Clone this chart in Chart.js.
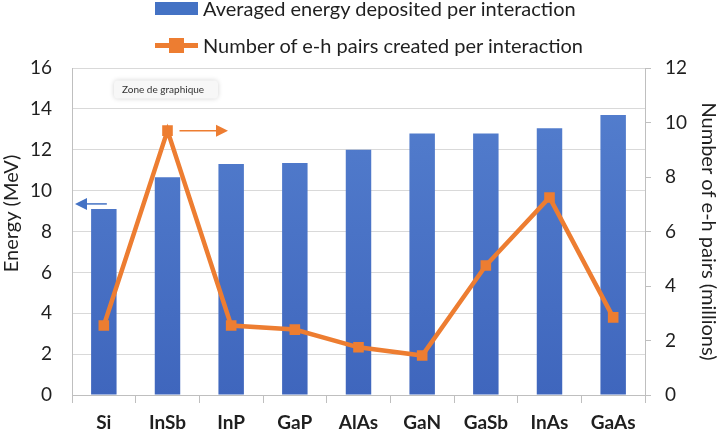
<!DOCTYPE html>
<html>
<head>
<meta charset="utf-8">
<script src="https://cdn.jsdelivr.net/npm/chart.js@4"></script>
<style>
  body { margin: 0; background: #fff; }
  #wrap { position: relative; width: 720px; height: 432px; }
  #legend { position: absolute; left: 0; top: 0; width: 720px; font-family: Lato, sans-serif; font-size: 20px; color: #1f1f1f; }
  .row { position: absolute; left: 155px; height: 24px; display: flex; align-items: center; white-space: nowrap; }
  .box { width: 43px; height: 13px; background: #4472C4; margin-right: 5px; }
  .ln { position: relative; width: 43px; height: 5px; background: #ED7D31; margin-right: 5px; }
  .ln span { position: absolute; left: 14px; top: -5px; width: 15px; height: 15px; background: #ED7D31; }
</style>
</head>
<body>
<div id="wrap">
  <canvas id="mycanvas" width="720" height="432"></canvas>
  <div id="legend">
    <div class="row" style="top:-4px"><div class="box"></div>Averaged energy deposited per interaction</div>
    <div class="row" style="top:33px"><div class="ln"><span></span></div>Number of e-h pairs created per interaction</div>
  </div>
</div>
<script>
var materials = ['Si', 'InSb', 'InP', 'GaP', 'AlAs', 'GaN', 'GaSb', 'InAs', 'GaAs'];
var energy = [9.1, 10.65, 11.3, 11.35, 12.0, 12.8, 12.8, 13.05, 13.7];
var pairs = [2.55, 9.7, 2.55, 2.4, 1.75, 1.45, 4.75, 7.25, 2.85];

var fontName = 'Lato, sans-serif';
var textColor = '#1f1f1f';

var extras = {
  id: 'extras',
  afterDatasetsDraw: function(chart) {
    var ctx = chart.ctx;
    var x = chart.scales.x, y = chart.scales.y, y1 = chart.scales.y1;
    var step = x.getPixelForValue(1) - x.getPixelForValue(0);

    function arrow(x0, x1, yy, color, w) {
      var dir = x1 > x0 ? 1 : -1;
      ctx.save();
      ctx.strokeStyle = color;
      ctx.fillStyle = color;
      ctx.lineWidth = w;
      ctx.beginPath();
      ctx.moveTo(x0, yy);
      ctx.lineTo(x1 - dir * 10, yy);
      ctx.stroke();
      ctx.beginPath();
      ctx.moveTo(x1, yy);
      ctx.lineTo(x1 - dir * 12, yy - 6);
      ctx.lineTo(x1 - dir * 12, yy + 6);
      ctx.closePath();
      ctx.fill();
      ctx.restore();
    }
    // axis pointer arrows
    var sx = x.getPixelForValue(0);
    arrow(sx + 3, x.left + 3, y.getPixelForValue(9.35), '#4472C4', 1.5);
    var ix = x.getPixelForValue(1);
    arrow(ix + 12, ix + step * 0.95, y1.getPixelForValue(pairs[1]), '#ED7D31', 1.5);

    // left axis title (sits a little above the plot centre in the original)
    ctx.save();
    ctx.translate(12, (y.top + y.bottom) / 2 - 18);
    ctx.rotate(-Math.PI / 2);
    ctx.fillStyle = textColor;
    ctx.font = '20px ' + fontName;
    ctx.textAlign = 'center';
    ctx.textBaseline = 'middle';
    ctx.fillText('Energy (MeV)', 0, 0);
    ctx.restore();

    // Excel hover label
    ctx.save();
    var bx = x.left + 42, by = y.getPixelForValue(14.95) - 9;
    ctx.shadowColor = 'rgba(0,0,0,0.18)';
    ctx.shadowBlur = 5;
    ctx.fillStyle = '#f7f7f7';
    ctx.beginPath();
    ctx.roundRect(bx, by, 104, 18, 4);
    ctx.fill();
    ctx.shadowColor = 'transparent';
    ctx.fillStyle = '#333';
    ctx.font = '10px ' + fontName;
    ctx.textBaseline = 'middle';
    ctx.fillText('Zone de graphique', bx + 8, by + 9.5);
    ctx.restore();
  }
};

var ctx = document.getElementById('mycanvas');
var chart = new Chart(ctx, {
  data: {
    labels: materials,
    datasets: [
      {
        type: 'line',
        label: 'Number of e-h pairs created per interaction',
        data: pairs,
        yAxisID: 'y1',
        borderColor: '#ED7D31',
        backgroundColor: '#ED7D31',
        borderWidth: 4.5,
        pointStyle: 'rect',
        pointRadius: 7.5,
        pointBorderWidth: 0,
        tension: 0,
        order: 0
      },
      {
        type: 'bar',
        label: 'Averaged energy deposited per interaction',
        data: energy,
        yAxisID: 'y',
        backgroundColor: function(c) {
          var area = c.chart.chartArea;
          if (!area) return '#4472C4';
          var g = c.chart.ctx.createLinearGradient(0, area.top, 0, area.bottom);
          g.addColorStop(0, '#5580cf');
          g.addColorStop(1, '#3f66bd');
          return g;
        },
        barPercentage: 0.4,
        categoryPercentage: 1,
        order: 1
      }
    ]
  },
  options: {
    responsive: false,
    animation: false,
    layout: { padding: { top: 68, bottom: 0 } },
    plugins: {
      legend: { display: false },
      tooltip: { enabled: false }
    },
    scales: {
      x: {
        offset: true,
        grid: { offset: true, drawOnChartArea: false, color: '#bfbfbf', tickLength: 8 },
        border: { color: '#bfbfbf' },
        ticks: { color: textColor, padding: 8, font: { family: fontName, size: 19, weight: 'bold' } },
        afterFit: function(s) { s.height = 37; }
      },
      y: {
        position: 'left',
        min: 0, max: 16,
        ticks: { stepSize: 2, color: textColor, padding: 20, font: { family: fontName, size: 19 } },
        grid: { color: '#d9d9d9', drawTicks: false },
        border: { color: '#bfbfbf' },
        title: { display: false, text: 'Energy (MeV)' },
        afterFit: function(s) { s.width = 72; }
      },
      y1: {
        position: 'right',
        min: 0, max: 12,
        ticks: { stepSize: 2, color: textColor, padding: 14, font: { family: fontName, size: 19 } },
        grid: { drawOnChartArea: false, color: '#bfbfbf', tickLength: 6 },
        border: { color: '#bfbfbf' },
        title: { display: true, text: 'Number of e-h pairs (millions)', color: textColor, font: { family: fontName, size: 20 }, padding: { top: 0, bottom: 0 } },
        afterFit: function(s) { s.width = 75; }
      }
    }
  },
  plugins: [extras]
});
</script>
</body>
</html>
